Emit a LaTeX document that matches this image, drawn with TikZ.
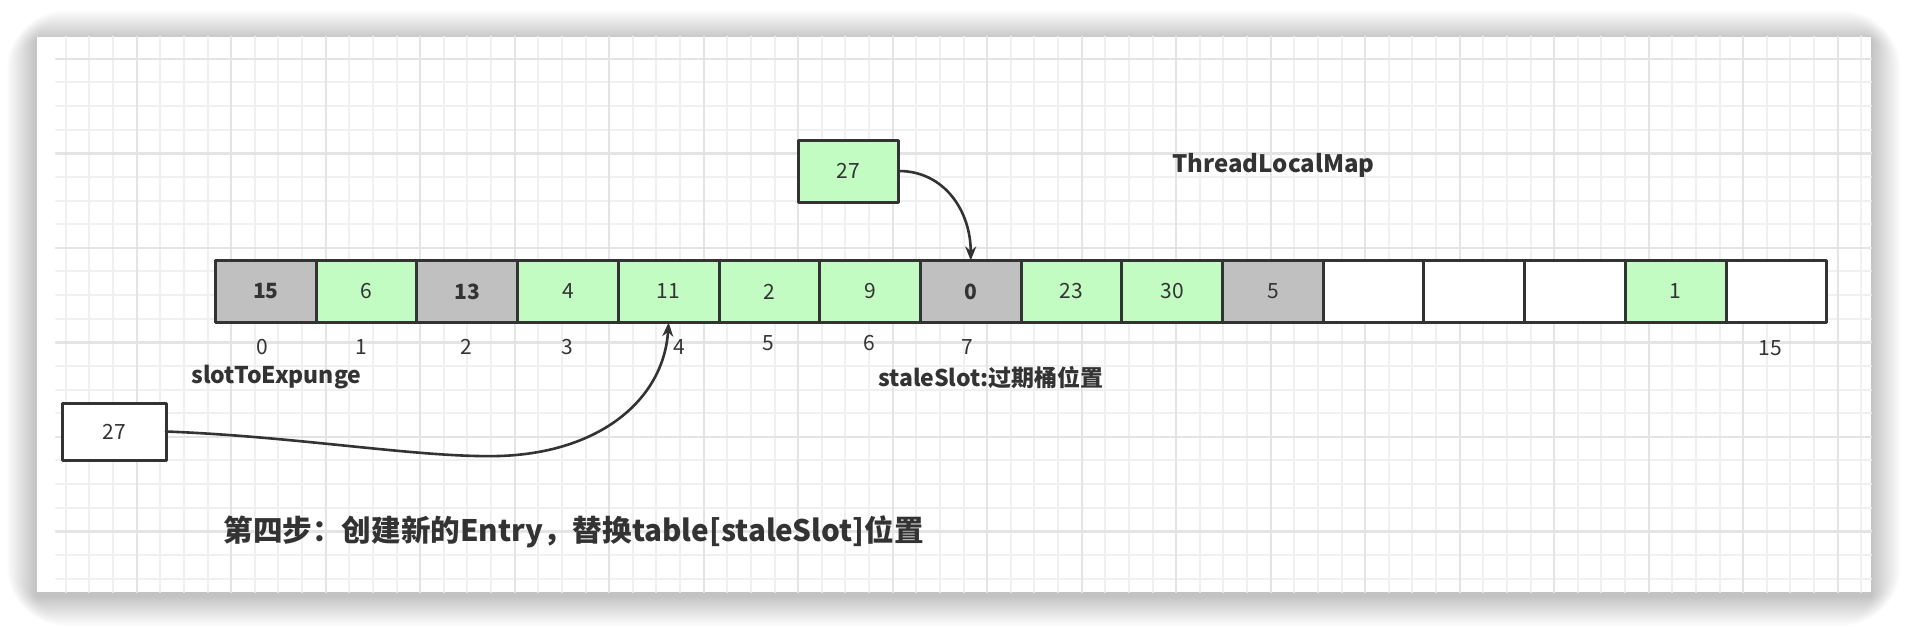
\documentclass[tikz,border=0pt]{standalone}
\usepackage{fontspec}
\setmainfont{Noto Sans CJK SC}
\usetikzlibrary{arrows.meta}

\begin{document}
\begin{tikzpicture}[x=0.5pt,y=-0.5pt,line cap=round,line join=round,
  cell/.style={draw=celledge,line width=1.5pt,minimum width=50.35pt,minimum height=31pt,
    inner sep=0pt,outer sep=0pt,text=celltext,font=\fontsize{10.5}{12}\selectfont},
  idx/.style={inner sep=0pt,text=celltext,font=\fontsize{10.5}{12}\selectfont},
  tag/.style={inner sep=0pt,anchor=west,text=celltext,font=\fontsize{11.5}{13}\selectfont\bfseries},
  link/.style={draw=celledge,line width=1.3pt,-{Stealth[length=7pt,width=5.5pt]}},
  gridminor/.style={draw=gridlight,line width=1pt},
  gridmajor/.style={draw=gridstrong,line width=1.2pt}]
\definecolor{gridlight}{HTML}{F0F0F0}
\definecolor{gridstrong}{HTML}{E4E4E4}
\definecolor{celledge}{HTML}{333333}
\definecolor{celltext}{HTML}{333333}
\definecolor{cellgray}{HTML}{C0C0C0}
\definecolor{cellgreen}{HTML}{C2FCC2}

\useasboundingbox (0,0) rectangle (1908,628);

% card with soft shadow
\foreach \r in {1,...,30}
  \fill[black,opacity=0.006,rounded corners=\r] ({36.5-\r},{40.5-\r}) rectangle ({1871+\r},{596+\r});
\fill[white] (36.5,36.5) rectangle (1871,592);

% paper grid
\foreach \i in {0,...,76}
  \draw[gridminor] ({65.8+23.625*\i},36.5) -- ({65.8+23.625*\i},592);
\foreach \j in {0,...,22}
  \draw[gridminor] (56,{58.8+23.625*\j}) -- (1871,{58.8+23.625*\j});
\foreach \i in {0,...,18}
  \draw[gridmajor] ({136.7+94.5*\i},36.5) -- ({136.7+94.5*\i},592);
\foreach \j in {0,...,5}
  \draw[gridmajor] (56,{58.8+94.5*\j}) -- (1871,{58.8+94.5*\j});

% table slots
\foreach \val/\fillc/\wt [count=\i from 0] in {15/cellgray/\bfseries,6/cellgreen/\mdseries,
    13/cellgray/\bfseries,4/cellgreen/\mdseries,11/cellgreen/\mdseries,2/cellgreen/\mdseries,
    9/cellgreen/\mdseries,0/cellgray/\bfseries,23/cellgreen/\mdseries,30/cellgreen/\mdseries,
    5/cellgray/\mdseries,/white/\mdseries,/white/\mdseries,/white/\mdseries,
    1/cellgreen/\mdseries,/white/\mdseries}
  \node[cell,fill=\fillc] (c\i) at ({265.85+100.7*\i},291.5) {\wt\val};

\foreach \lab/\lx/\ly in {0/262/347,1/361/347,2/466/347,3/567/347,4/679/347,
    5/768/343,6/869/343,7/967/347,15/1770/348}
  \node[idx] (i\lab) at (\lx,\ly) {\lab};

\node[tag] (expunge) at (191,377) {slotToExpunge};
\node[tag] (stale) at (878,378) {staleSlot:过期桶位置};
\node[tag,font=\fontsize{12}{14}\selectfont\bfseries] (map) at (1172,165) {ThreadLocalMap};
\node[tag,font=\fontsize{14.8}{17}\selectfont\bfseries] (step) at (223,532)
  {第四步：创建新的Entry，替换table[staleSlot]位置};

% entries
\node[cell,fill=cellgreen] (new) at (848.5,171) {27};
\node[cell,fill=white,minimum width=52pt,minimum height=28.5pt] (old) at (114,431.5) {27};

\coordinate (dip) at (499,456);
\draw[link] (new.east) .. controls +(45,0) and +(0,-50) .. (c7.north);
\draw[link] (old.east) .. controls +(132,5) and +(-79,2) .. (dip)
  .. controls +(101,-3) and +(-5,77) .. (c4.south);
\end{tikzpicture}
\end{document}
